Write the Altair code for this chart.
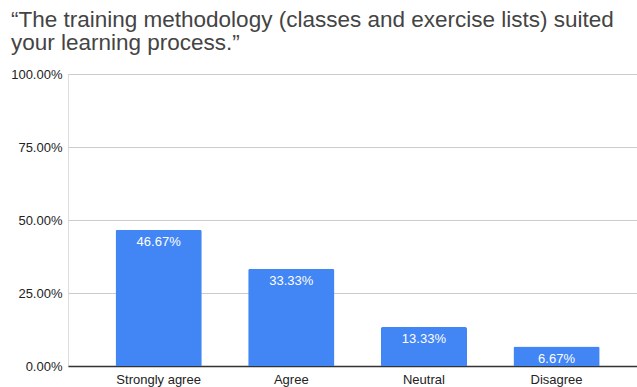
import altair as alt
import pandas as pd

# Survey answers and the share of respondents choosing each one
responses = ["Strongly agree", "Agree", "Neutral", "Disagree"]
shares = [0.4667, 0.3333, 0.1333, 0.0667]
y_ticks = [0, 0.25, 0.5, 0.75, 1.0]

title_lines = [
    "\u201cThe training methodology (classes and exercise lists) suited",
    "your learning process.\u201d",
]

df = pd.DataFrame({"response": responses, "share": shares})

FONT = "Liberation Sans"
BLUE = "#4285F4"

x_enc = alt.X(
    "response:N",
    sort=responses,
    title=None,
    scale=alt.Scale(paddingInner=0.35, paddingOuter=0.32, align=0.56),
    axis=alt.Axis(
        labelAngle=0,
        labelFont=FONT,
        labelFontSize=13,
        labelColor="#222222",
        labelPadding=7,
        ticks=False,
        domain=True,
        domainColor="#333333",
        domainWidth=1.5,
        grid=False,
    ),
)
y_enc = alt.Y(
    "share:Q",
    title=None,
    scale=alt.Scale(domain=[0, 1], nice=False),
    axis=alt.Axis(
        values=y_ticks,
        format=".2%",
        labelFont=FONT,
        labelFontSize=13,
        labelColor="#222222",
        labelPadding=6,
        ticks=False,
        domain=False,
        grid=True,
        gridColor="#cccccc",
        gridWidth=1,
    ),
)

bars = alt.Chart(df).mark_bar(
    color=BLUE, cornerRadiusTopLeft=2, cornerRadiusTopRight=2
).encode(x=x_enc, y=y_enc)

labels = alt.Chart(df).mark_text(
    color="white", font=FONT, fontSize=13, baseline="middle", dy=12
).encode(
    x=alt.X("response:N", sort=responses),
    y=alt.Y("share:Q"),
    text=alt.Text("share:Q", format=".2%"),
)

chart = (
    alt.layer(bars, labels)
    .properties(
        width=569,
        height=292,
        padding={"left": 68, "top": 74, "right": 0, "bottom": 21},
        autosize=alt.AutoSizeParams(type="none"),
        title=alt.Title(
            title_lines,
            anchor="start",
            frame="group",
            dx=-57,
            dy=29,
            offset=20,
            baseline="bottom",
            font=FONT,
            fontSize=22.5,
            fontWeight="normal",
            color="#444444",
            lineHeight=23,
        ),
    )
    .configure_view(stroke=None)
    .configure(background="white")
)

chart.save("out.html", embed_options={"renderer": "svg", "actions": False})
